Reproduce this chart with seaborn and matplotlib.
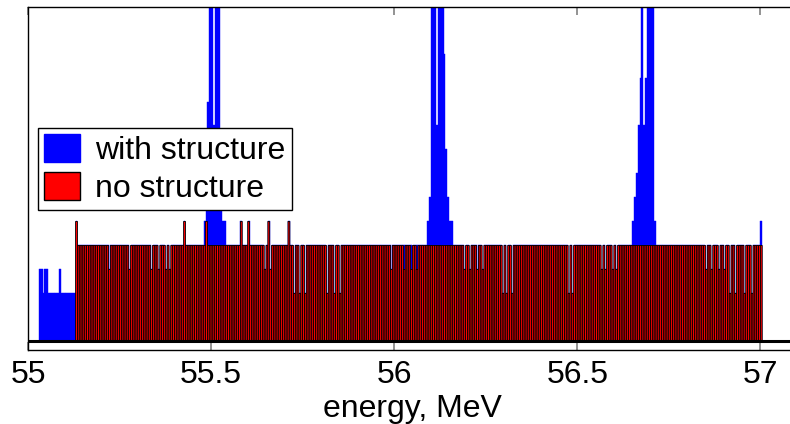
import numpy as np
import pandas as pd
import matplotlib
matplotlib.use("Agg")
import matplotlib.pyplot as plt
from matplotlib.patches import Patch
import seaborn as sns

# ---- histogram binning ----
BIN_WIDTH = 0.005
E_MIN, E_MAX = 55.0, 57.1

# ---- flat part shared by both spectra (counts per bin) ----
plateau_start = 55.130
plateau_stop = 57.000
plateau_level = 4

# "no structure": bins that differ from the plateau
red_level5 = [55.130, 55.425, 55.485, 55.580, 55.600, 55.655, 55.710]
red_level3 = [55.220, 55.275, 55.335, 55.355, 55.375, 55.385, 55.645, 55.660,
              55.990, 56.025, 56.045, 56.060, 56.190, 56.205, 56.225, 56.240,
              56.565, 56.575, 56.595, 56.605, 56.850, 56.865, 56.885, 56.900]
red_level2 = [55.725, 55.740, 55.755, 55.815, 55.835, 55.850, 56.295, 56.305,
              56.320, 56.475, 56.485, 56.915, 56.930, 56.955, 56.975]

# "with structure": low-energy tail, resonance peaks and a last spike
blue_tail_start = 55.030
blue_tail_stop = 55.125
blue_tail_level = 2
blue_tail_level3 = [55.030, 55.035, 55.045, 55.050, 55.085]
# plateau bins where the structured spectrum stays at the plateau level
blue_plateau_keep = [56.025, 56.045, 56.060]

peak_starts = [55.480, 56.090, 56.650]
peak_counts = [
    [5, 8, 10, 30, 30, 9, 30, 30, 30, 6, 5, 5],
    [5, 6, 30, 30, 30, 9, 30, 30, 30, 12, 8, 6, 5, 5],
    [5, 6, 7, 9, 11, 30, 9, 11, 30, 30, 30, 30, 5],
]
spike_energy = 57.000
spike_count = 5

tick_values = [55, 55.5, 56, 56.5, 57]
tick_labels = ["55", "55.5", "56", "56.5", "57"]
series_labels = ["with structure", "no structure"]

# ---- build per-bin counts ----
edges = np.round(np.arange(E_MIN, E_MAX + BIN_WIDTH / 2, BIN_WIDTH), 4)
centers = edges[:-1] + BIN_WIDTH / 2
bin_edges = [float(v) for v in edges]


def idx(e):
    return int(round((e - E_MIN) / BIN_WIDTH))


red = np.zeros(len(centers))
red[idx(plateau_start):idx(plateau_stop) + 1] = plateau_level
for e in red_level5:
    red[idx(e)] = 5
for e in red_level3:
    red[idx(e)] = 3
for e in red_level2:
    red[idx(e)] = 2

# away from the resonances the structured spectrum follows the flat one
blue = red.copy()
blue[idx(blue_tail_start):idx(blue_tail_stop) + 1] = blue_tail_level
for e in blue_tail_level3:
    blue[idx(e)] = 3
for e in blue_plateau_keep:
    blue[idx(e)] = plateau_level
for start, counts in zip(peak_starts, peak_counts):
    i0 = idx(start)
    blue[i0:i0 + len(counts)] = counts
blue[idx(spike_energy)] = spike_count

spectra = pd.DataFrame({"energy": centers, "with_structure": blue,
                        "no_structure": red})

# ---- figure ----
sns.set_theme(style="white")
plt.rcParams["font.family"] = ["Liberation Sans", "DejaVu Sans"]
plt.rcParams["font.size"] = 23
plt.rcParams["text.color"] = "black"
plt.rcParams["axes.labelcolor"] = "black"
plt.rcParams["xtick.labelcolor"] = "black"

W, H = 790, 424
fig = plt.figure(figsize=(W / 100, H / 100), dpi=100)
ax = fig.add_axes([28 / W, 74 / H, 769 / W, 343 / H])

sns.histplot(data=spectra, x="energy", weights="with_structure",
             bins=bin_edges, color="blue", edgecolor="blue", linewidth=0.3,
             alpha=1, ax=ax)
sns.histplot(data=spectra, x="energy", weights="no_structure",
             bins=bin_edges, color="red", edgecolor="black", linewidth=0.6,
             alpha=1, ax=ax, snap=False)

ax.axhline(0, color="black", lw=2.2, zorder=5)

ax.set_xlim(E_MIN, E_MAX)
ax.set_ylim(-0.36, 13.94)
ax.set_xticks(tick_values)
ax.set_xticklabels(tick_labels)
ax.set_yticks([])
ax.set_ylabel("")
ax.set_xlabel("energy, MeV", fontsize=23, labelpad=3)
ax.tick_params(axis="x", direction="in", length=6, width=1.2,
               color="#808080", top=True, bottom=True, labelsize=23, pad=7,
               labelcolor="black")

for side in ["left", "bottom", "top", "right"]:
    ax.spines[side].set_visible(True)
    ax.spines[side].set_color("black")
    ax.spines[side].set_linewidth(1.0)

handles = [Patch(facecolor="blue", edgecolor="blue"),
           Patch(facecolor="red", edgecolor="black", linewidth=1)]
leg = ax.legend(handles, series_labels, loc="upper left",
                bbox_to_anchor=(38 / W, 1 - 128 / H),
                bbox_transform=fig.transFigure, borderaxespad=0,
                fontsize=23, frameon=True, fancybox=False, shadow=False,
                handlelength=1.13, handleheight=0.94, handletextpad=0.45,
                labelspacing=0.2, borderpad=0.2)
leg.get_frame().set_edgecolor("black")
leg.get_frame().set_linewidth(1.0)
leg.get_frame().set_alpha(1)
leg.set_zorder(10)
for t in leg.get_texts():
    t.set_color("black")

fig.savefig("out.png", dpi=100)
